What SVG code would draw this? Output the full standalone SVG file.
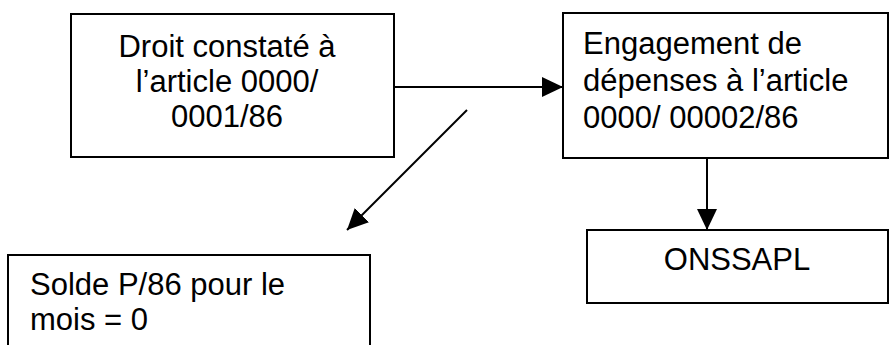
<svg xmlns="http://www.w3.org/2000/svg" width="890" height="345" viewBox="0 0 890 345">
<style>
.box{fill:#fff;stroke:#000;stroke-width:2}
.t{font-family:"Liberation Sans",Arial,sans-serif;font-size:31px;fill:#000}
.c{text-anchor:middle}
.ln{stroke:#000;stroke-width:2;fill:none}
</style>
<defs>
<marker id="ahb" viewBox="0 0 21 20" refX="21" refY="10" markerWidth="21" markerHeight="20" orient="auto" markerUnits="userSpaceOnUse">
<path d="M0,0 L21,10 L0,20 z" fill="#000"/>
</marker>
</defs>
<rect width="890" height="345" fill="#fff"/>
<g id="connectors">
<line class="ln" x1="394" y1="87" x2="563" y2="87" marker-end="url(#ahb)"/>
<line class="ln" x1="707" y1="158" x2="707" y2="230" marker-end="url(#ahb)"/>
<line class="ln" x1="467" y1="110" x2="347" y2="230" marker-end="url(#ahb)"/>
</g>
<g id="n1">
<rect class="box" x="71" y="14" width="323" height="143"/>
<text class="t c" x="227" y="57">Droit constaté à</text>
<text class="t c" x="227" y="92">l’article 0000/</text>
<text class="t c" x="227" y="127">0001/86</text>
</g>
<g id="n2">
<rect class="box" x="563" y="13" width="325" height="145"/>
<text class="t" x="583" y="54">Engagement de</text>
<text class="t" x="583" y="91">dépenses à l’article</text>
<text class="t" x="583" y="128">0000/ 00002/86</text>
</g>
<g id="n3">
<rect class="box" x="587" y="230" width="301" height="73"/>
<text class="t c" x="737" y="270">ONSSAPL</text>
</g>
<g id="n4">
<rect class="box" x="8" y="255" width="362" height="100"/>
<text class="t" x="30" y="295">Solde P/86 pour le</text>
<text class="t" x="30" y="330">mois = 0</text>
</g>
</svg>
